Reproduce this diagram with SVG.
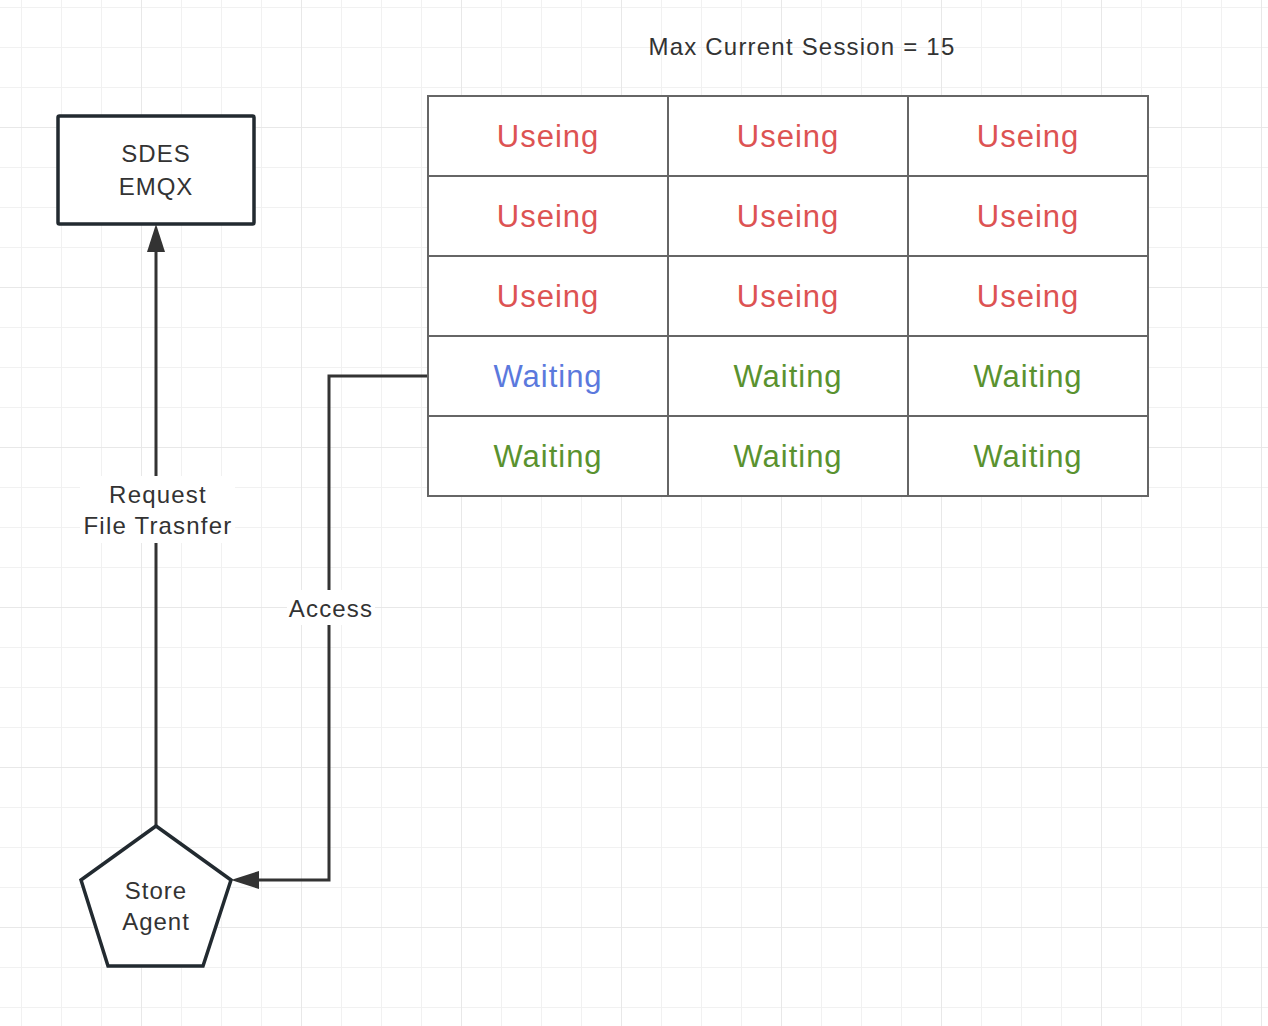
<svg xmlns="http://www.w3.org/2000/svg" width="1268" height="1026" viewBox="0 0 1268 1026">
<style>
.t{font-family:"Liberation Sans",Arial,sans-serif;fill:#333;text-anchor:middle;font-size:24px;letter-spacing:1.2px}
.nd{letter-spacing:1px}
.cell{font-size:31px;letter-spacing:1px;text-anchor:middle;font-family:"Liberation Sans",Arial,sans-serif}
.red{fill:#dd5353}
.green{fill:#5a922f}
.blue{fill:#5b79dd}
.conn{fill:none;stroke:#333;stroke-width:3}
.node{fill:#fff;stroke:#222a30;stroke-width:3.5;stroke-linejoin:miter}
.grid{fill:none;stroke:#666;stroke-width:2}
</style>
<defs>
<pattern id="minor" patternUnits="userSpaceOnUse" x="21" y="7" width="40" height="40">
<path d="M0 0H40M0 0V40" stroke="#f1f1f1" stroke-width="2" fill="none"/>
</pattern>
<pattern id="major" patternUnits="userSpaceOnUse" x="141" y="127" width="160" height="160">
<path d="M0 0H160M0 0V160" stroke="#e8e8e8" stroke-width="2" fill="none"/>
</pattern>
<marker id="arr" markerUnits="userSpaceOnUse" markerWidth="28" markerHeight="18" refX="0" refY="9" orient="auto">
<path d="M0 0L28 9L0 18Z" fill="#333"/>
</marker>
</defs>
<rect width="1268" height="1026" fill="#fff"/>
<rect width="1268" height="1026" fill="url(#minor)"/>
<rect width="1268" height="1026" fill="url(#major)"/>

<text class="t" x="802" y="55">Max Current Session = 15</text>

<g id="connectors">
<path class="conn" d="M156 826V252" marker-end="url(#arr)"/>
<path class="conn" d="M428 376H329V880H259" marker-end="url(#arr)"/>
<rect x="80" y="476" width="155" height="67" fill="#fff"/>
<text class="t" x="158" y="503">Request</text>
<text class="t" x="158" y="534">File Trasnfer</text>
<rect x="287" y="590" width="88" height="35" fill="#fff"/>
<text class="t" x="331" y="617">Access</text>
</g>

<g id="sdes-emqx">
<rect class="node" x="58" y="116" width="196" height="108" rx="1.5"/>
<text class="t nd" x="156" y="162">SDES</text>
<text class="t nd" x="156" y="195">EMQX</text>
</g>

<g id="store-agent">
<polygon class="node" points="156,826 231,880 203,966 108,966 81,880"/>
<text class="t nd" x="156" y="899">Store</text>
<text class="t nd" x="156" y="930">Agent</text>
</g>

<g id="session-table">
<rect x="428" y="96" width="720" height="400" fill="#fff"/>
<path class="grid" d="M428 96H1148V496H428Z M668 96V496 M908 96V496 M428 176H1148 M428 256H1148 M428 336H1148 M428 416H1148"/>
<text class="cell red" x="548" y="147">Useing</text>
<text class="cell red" x="788" y="147">Useing</text>
<text class="cell red" x="1028" y="147">Useing</text>
<text class="cell red" x="548" y="227">Useing</text>
<text class="cell red" x="788" y="227">Useing</text>
<text class="cell red" x="1028" y="227">Useing</text>
<text class="cell red" x="548" y="307">Useing</text>
<text class="cell red" x="788" y="307">Useing</text>
<text class="cell red" x="1028" y="307">Useing</text>
<text class="cell blue" x="548" y="387">Waiting</text>
<text class="cell green" x="788" y="387">Waiting</text>
<text class="cell green" x="1028" y="387">Waiting</text>
<text class="cell green" x="548" y="467">Waiting</text>
<text class="cell green" x="788" y="467">Waiting</text>
<text class="cell green" x="1028" y="467">Waiting</text>
</g>
</svg>
